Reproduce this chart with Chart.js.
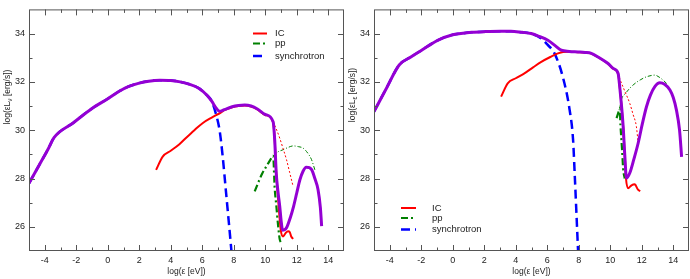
<!DOCTYPE html>
<html>
<head>
<meta charset="utf-8">
<script src="https://cdn.jsdelivr.net/npm/chart.js@4"></script>
<style>
  html, body { margin: 0; padding: 0; background: #fff; }
  #wrap { display: flex; width: 690px; height: 279px; }
  .panel { width: 345px; height: 279px; }
</style>
</head>
<body>
<div id="wrap">
  <div class="panel"><canvas id="leftChart" width="345" height="279"></canvas></div>
  <div class="panel"><canvas id="rightChart" width="345" height="279"></canvas></div>
</div>
<script>
// axis ticks
const xTicks = [-4, -2, 0, 2, 4, 6, 8, 10, 12, 14];
const yTicks = [26, 28, 30, 32, 34];
const legendLabels = ['IC', 'pp', 'synchrotron'];

// left panel (log eV vs log erg/s)
const leftTotalX = [-5, -4.4, -3.8, -3.4, -2.2, -1, 0, 0.7, 1.3, 2, 2.6, 3.3, 4, 4.6, 5.2, 5.8, 6.3, 6.6, 6.9, 7.1, 7.4, 7.9, 8.3, 8.7, 9.1, 9.5, 10, 10.5, 10.6, 10.7, 10.8, 10.92, 11, 11.1, 11.2, 11.35, 11.6, 11.8, 12, 12.2, 12.4, 12.6, 12.8, 12.95, 13.15, 13.35, 13.5, 13.58];
const leftTotalY = [27.8, 28.5, 29.2, 29.7, 30.3, 30.9, 31.3, 31.6, 31.8, 31.95, 32.03, 32.07, 32.06, 32.0, 31.9, 31.73, 31.45, 31.2, 30.9, 30.78, 30.85, 30.97, 31.02, 31.04, 31.0, 30.88, 30.65, 30.35, 29.6, 28.2, 27.5, 26.85, 26.3, 25.86, 25.87, 25.96, 26.4, 26.85, 27.4, 27.95, 28.3, 28.47, 28.45, 28.36, 28.0, 27.55, 26.8, 26.03];
const leftSyncX = [-5, -4.4, -3.8, -3.4, -2.2, -1, 0, 0.7, 1.3, 2, 2.6, 3.3, 4, 4.6, 5.2, 5.8, 6.3, 6.6, 6.9, 7.1, 7.3, 7.5, 7.7, 7.88];
const leftSyncY = [27.8, 28.5, 29.2, 29.7, 30.3, 30.9, 31.3, 31.6, 31.8, 31.95, 32.03, 32.07, 32.06, 32.0, 31.9, 31.73, 31.45, 31.2, 30.6, 30.0, 28.9, 27.5, 26.1, 24.8];
const leftIcX = [3.07, 3.49, 4.0, 4.55, 5.0, 5.5, 6.04, 6.6, 7.2, 7.4, 7.9, 8.3, 8.7, 9.1, 9.5, 10, 10.5, 10.6, 10.7, 10.8, 10.92, 11.0, 11.13, 11.3, 11.45, 11.56, 11.65, 11.77];
const leftIcY = [28.36, 28.91, 29.15, 29.42, 29.7, 30.0, 30.3, 30.52, 30.74, 30.83, 30.95, 31.0, 31.02, 30.98, 30.86, 30.63, 30.33, 29.6, 28.2, 27.3, 26.3, 25.8, 25.6, 25.75, 25.82, 25.78, 25.6, 25.5];
const leftIcThinX = [10.5, 10.7, 10.92, 11.15, 11.35, 11.55, 11.77];
const leftIcThinY = [30.35, 30.05, 29.67, 29.2, 28.78, 28.25, 27.67];
const leftPpX = [9.33, 9.6, 9.8, 10.07, 10.3, 10.5, 10.6, 10.7, 10.8, 10.92, 11.0];
const leftPpY = [27.47, 27.9, 28.2, 28.5, 28.75, 28.94, 27.6, 26.9, 26.16, 25.48, 25.35];
const leftPpThinX = [10.5, 10.8, 11.13, 11.5, 11.77, 12.1, 12.4, 12.7, 12.94, 13.15];
const leftPpThinY = [28.94, 29.1, 29.19, 29.3, 29.35, 29.32, 29.26, 29.05, 28.78, 28.36];

// right panel
const rightTotalX = [-5, -4.2, -3.4, -2.66, -2, -0.96, 0, 0.52, 1.2, 2, 3, 3.7, 4.4, 4.98, 5.5, 6.04, 6.5, 6.89, 7.4, 7.95, 8.4, 8.8, 9.3, 9.86, 10.2, 10.5, 10.6, 10.82, 10.92, 11.03, 11.24, 11.5, 11.77, 12.05, 12.3, 12.55, 12.83, 13.15, 13.45, 13.79, 14, 14.2, 14.4, 14.53];
const rightTotalY = [30.77, 31.75, 32.7, 33.03, 33.3, 33.72, 33.95, 34.0, 34.05, 34.08, 34.1, 34.1, 34.05, 34.0, 33.88, 33.72, 33.5, 33.31, 33.26, 33.24, 33.22, 33.18, 33.0, 32.76, 32.55, 32.35, 31.8, 30.15, 29.0, 28.02, 28.23, 28.8, 29.46, 30.3, 30.97, 31.45, 31.8, 31.96, 31.9, 31.66, 31.35, 30.84, 30.0, 28.9];
const rightSyncX = [-5, -4.2, -3.4, -2.66, -2, -0.96, 0, 0.52, 1.2, 2, 3, 3.7, 4.4, 4.98, 5.62, 6.0, 6.46, 6.99, 7.42, 7.64, 7.74, 7.97];
const rightSyncY = [30.77, 31.75, 32.7, 33.03, 33.3, 33.72, 33.95, 34.0, 34.05, 34.08, 34.1, 34.1, 34.05, 34.0, 33.8, 33.55, 33.18, 32.2, 30.84, 29.6, 28.23, 24.8];
const rightIcX = [3.07, 3.49, 4.0, 4.55, 5.1, 5.62, 6.2, 6.68, 7.0, 7.4, 7.95, 8.4, 8.8, 9.3, 9.86, 10.2, 10.5, 10.6, 10.82, 10.92, 11.0, 11.13, 11.35, 11.56, 11.75, 11.9];
const rightIcY = [31.39, 31.94, 32.15, 32.35, 32.6, 32.83, 33.03, 33.18, 33.24, 33.25, 33.23, 33.21, 33.17, 32.99, 32.75, 32.54, 32.34, 31.8, 30.15, 29.0, 28.0, 27.6, 27.72, 27.76, 27.55, 27.47];
const rightIcThinX = [10.5, 10.6, 10.9, 11.24, 11.45, 11.66, 11.77];
const rightIcThinY = [32.35, 32.14, 31.65, 31.11, 30.65, 30.15, 29.46];
const rightPpX = [10.4, 10.5, 10.6, 10.65, 10.75, 10.82, 10.92];
const rightPpY = [30.5, 30.7, 30.9, 30.2, 29.2, 28.4, 28.0];
const rightPpThinX = [10.6, 10.7, 11.0, 11.45, 11.9, 12.3, 12.83, 13.1, 13.36, 13.68];
const rightPpThinY = [30.9, 31.25, 31.55, 31.87, 32.08, 32.21, 32.28, 32.2, 32.07, 31.87];

const FONT = "'Liberation Sans', Arial, Helvetica, sans-serif";
const INK = '#222';
const PURPLE = '#9400d3', RED = '#ff0000', GREEN = '#008000', BLUE = '#0000ff';
const legendStyles = [
  { color: RED, width: 2, dash: [] },
  { color: GREEN, width: 2.2, dash: [7, 3, 2, 3] },
  { color: BLUE, width: 2.5, dash: [9, 5] },
];

const pts = (xs, ys) => xs.map((x, i) => ({ x, y: ys[i] }));

function buildDatasets(d) {
  return [
    { data: pts(d.totalX, d.totalY), borderColor: PURPLE, borderWidth: 3 },
    { data: pts(d.icX, d.icY), borderColor: RED, borderWidth: 2 },
    { data: pts(d.ppX, d.ppY), borderColor: GREEN, borderWidth: 2.2, borderDash: [7, 3, 2, 3] },
    { data: pts(d.syncX, d.syncY), borderColor: BLUE, borderWidth: 2.5, borderDash: [9, 5] },
    { data: pts(d.icThinX, d.icThinY), borderColor: RED, borderWidth: 1, borderDash: [2, 2] },
    { data: pts(d.ppThinX, d.ppThinY), borderColor: GREEN, borderWidth: 1, borderDash: [4, 2, 1, 2] },
  ];
}

// frame with inward ticks on all four sides, y title with subscript, legend
const framePlugin = {
  id: 'frame',
  afterDraw(chart, args, opts) {
    const { ctx, chartArea: a, scales: { x, y } } = chart;
    ctx.save();
    ctx.strokeStyle = '#555';
    ctx.lineWidth = 1;
    ctx.setLineDash([]);
    ctx.strokeRect(a.left + 0.5, a.top + 0.5, a.right - a.left - 1, a.bottom - a.top - 1);
    ctx.beginPath();
    for (let v = Math.ceil(x.min) + 1; v < x.max; v++) {
      const px = Math.round(x.getPixelForValue(v)) + 0.5;
      const len = xTicks.includes(v) ? 6 : 3.5;
      ctx.moveTo(px, a.bottom); ctx.lineTo(px, a.bottom - len);
      ctx.moveTo(px, a.top); ctx.lineTo(px, a.top + len);
    }
    for (let v = Math.ceil(y.min) + 1; v < y.max; v++) {
      const py = Math.round(y.getPixelForValue(v)) + 0.5;
      const len = yTicks.includes(v) ? 6 : 3.5;
      ctx.moveTo(a.left, py); ctx.lineTo(a.left + len, py);
      ctx.moveTo(a.right, py); ctx.lineTo(a.right - len, py);
    }
    ctx.stroke();

    // y title
    ctx.fillStyle = INK;
    ctx.textBaseline = 'middle';
    ctx.textAlign = 'left';
    const big = '8.5px ' + FONT, small = '6.5px ' + FONT;
    const p1 = 'log(\u03b5L', p3 = ' [erg/s])';
    ctx.font = big; const w1 = ctx.measureText(p1).width, w3 = ctx.measureText(p3).width;
    ctx.font = small; const w2 = ctx.measureText(opts.sub).width;
    const total = w1 + w2 + w3;
    ctx.translate(opts.titleX, opts.titleY);
    ctx.rotate(-Math.PI / 2);
    let cx = -total / 2;
    ctx.font = big; ctx.fillText(p1, cx, 0); cx += w1;
    ctx.font = small; ctx.fillText(opts.sub, cx, 2.5); cx += w2;
    ctx.font = big; ctx.fillText(p3, cx, 0);
    ctx.setTransform(1, 0, 0, 1, 0, 0);

    // legend
    ctx.font = '9.5px ' + FONT;
    legendLabels.forEach((label, i) => {
      const s = legendStyles[i];
      const ly = opts.legend.rows[i];
      ctx.strokeStyle = s.color;
      ctx.lineWidth = s.width;
      ctx.setLineDash(s.dash);
      ctx.beginPath();
      ctx.moveTo(opts.legend.x0, ly); ctx.lineTo(opts.legend.x1, ly);
      ctx.stroke();
      ctx.fillStyle = INK;
      ctx.fillText(label, opts.legend.tx, ly);
    });
    ctx.restore();
  }
};

function makeChart(id, d, frameOpts) {
  return new Chart(document.getElementById(id), {
    type: 'line',
    data: { datasets: buildDatasets(d) },
    options: {
      responsive: false,
      animation: false,
      events: [],
      layout: { padding: { top: 9, right: 1, left: 0, bottom: 0 } },
      datasets: { line: { clip: 0 } },
      elements: { point: { radius: 0 }, line: { cubicInterpolationMode: 'monotone' } },
      plugins: { legend: { display: false }, tooltip: { enabled: false }, frame: frameOpts },
      scales: {
        x: {
          type: 'linear', min: -5, max: 15,
          afterBuildTicks: (s) => { s.ticks = xTicks.map((v) => ({ value: v })); },
          afterFit: (s) => { s.height = 28; },
          grid: { display: false, drawTicks: false },
          border: { display: false },
          ticks: { color: INK, font: { family: FONT, size: 9 }, padding: 4, maxRotation: 0, autoSkip: false },
          title: { display: true, text: 'log(\u03b5 [eV])', color: INK, font: { family: FONT, size: 8.5 }, padding: { top: 0, bottom: 2.5 } },
        },
        y: {
          type: 'linear', min: 25, max: 35,
          afterBuildTicks: (s) => { s.ticks = yTicks.map((v) => ({ value: v })); },
          afterFit: (s) => { s.width = 29; },
          grid: { display: false, drawTicks: false },
          border: { display: false },
          ticks: { color: INK, font: { family: FONT, size: 9 }, padding: 4, autoSkip: false },
        },
      },
    },
    plugins: [framePlugin],
  });
}

makeChart('leftChart', {
  totalX: leftTotalX, totalY: leftTotalY, syncX: leftSyncX, syncY: leftSyncY,
  icX: leftIcX, icY: leftIcY, icThinX: leftIcThinX, icThinY: leftIcThinY,
  ppX: leftPpX, ppY: leftPpY, ppThinX: leftPpThinX, ppThinY: leftPpThinY,
}, { sub: '\u03bd', titleX: 8, titleY: 97, legend: { x0: 253, x1: 267, tx: 275, rows: [33.5, 43.5, 56] } });

makeChart('rightChart', {
  totalX: rightTotalX, totalY: rightTotalY, syncX: rightSyncX, syncY: rightSyncY,
  icX: rightIcX, icY: rightIcY, icThinX: rightIcThinX, icThinY: rightIcThinY,
  ppX: rightPpX, ppY: rightPpY, ppThinX: rightPpThinX, ppThinY: rightPpThinY,
}, { sub: '\u03b5', titleX: 8, titleY: 95, legend: { x0: 56, x1: 71, tx: 87, rows: [208, 218, 229.5] } });
</script>
</body>
</html>
